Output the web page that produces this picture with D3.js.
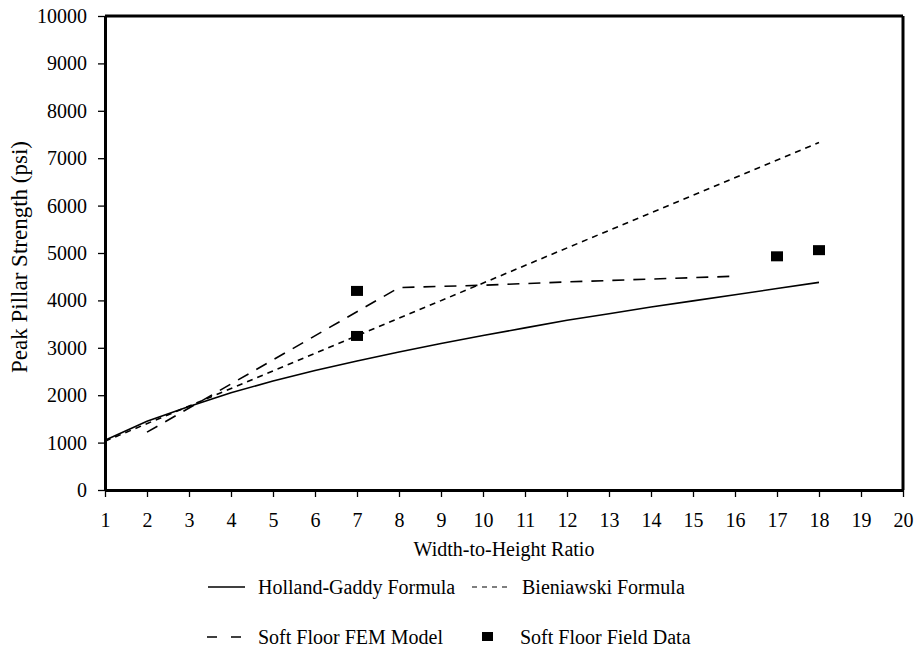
<!DOCTYPE html>
<html>
<head>
<meta charset="utf-8">
<script src="https://cdn.jsdelivr.net/npm/d3@7"></script>
<style>
  html, body { margin: 0; padding: 0; background: #fff; }
  svg { display: block; }
</style>
</head>
<body>
<svg id="chart" width="916" height="652"></svg>
<script>
// ---- Data ----
const ratioHG = [1, 2, 3, 4, 5, 6, 7, 8, 9, 10, 11, 12, 13, 14, 15, 16, 17, 18];
const hollandGaddy = [1050, 1450, 1760, 2050, 2300, 2520, 2720, 2910, 3090, 3260, 3420, 3580, 3720, 3860, 3990, 4120, 4250, 4380];

const ratioBien = [1, 18];
const bieniawski = [1030, 7330];

const ratioFEM = [2, 8, 10, 12, 14, 16];
const femModel = [1220, 4270, 4320, 4390, 4450, 4510];

const ratioField = [7, 7, 17, 18];
const fieldData = [4200, 3250, 4930, 5060];

const xTicks = d3.range(1, 21);
const yTicks = d3.range(0, 10001, 1000);

const seriesNames = ["Holland-Gaddy Formula", "Bieniawski Formula", "Soft Floor FEM Model", "Soft Floor Field Data"];

// ---- Layout ----
const FONT = "'Liberation Serif', 'Times New Roman', Times, serif";
const svg = d3.select("#chart");
const plotL = 105, plotR = 903, plotT = 16, plotB = 490;

const x = d3.scaleLinear().domain([1, 20]).range([plotL, plotR]);
const y = d3.scaleLinear().domain([0, 10000]).range([plotB, plotT]);

function txt(sel, size) {
  return sel.style("font-family", FONT).style("font-size", size + "px").style("fill", "#000");
}

// frame (top and right)
svg.append("line").attr("x1", plotL).attr("x2", plotR).attr("y1", plotT).attr("y2", plotT)
  .attr("stroke", "#000").attr("stroke-width", 3);
svg.append("line").attr("x1", plotR).attr("x2", plotR).attr("y1", plotT).attr("y2", plotB)
  .attr("stroke", "#000").attr("stroke-width", 3);

// axes
const xAxis = svg.append("g").attr("transform", `translate(0,${plotB})`)
  .call(d3.axisBottom(x).tickValues(xTicks).tickFormat(d3.format("d")).tickSize(7).tickPadding(10).tickSizeOuter(0));
const yAxis = svg.append("g").attr("transform", `translate(${plotL},0)`)
  .call(d3.axisLeft(y).tickValues(yTicks).tickFormat(d3.format("d")).tickSize(7).tickPadding(11).tickSizeOuter(0));

[xAxis, yAxis].forEach(g => {
  g.attr("font-family", null).attr("font-size", null);
  g.select(".domain").attr("stroke", "#000").attr("stroke-width", 3);
  g.selectAll(".tick line").attr("stroke", "#000").attr("stroke-width", 1.3);
  txt(g.selectAll(".tick text"), 20);
});
xAxis.selectAll(".tick text").attr("dy", null).attr("y", 0).attr("transform", "translate(0,37)");

// axis titles
txt(svg.append("text").attr("x", (plotL + plotR) / 2).attr("y", 556).attr("text-anchor", "middle"), 20)
  .text("Width-to-Height Ratio");
txt(svg.append("text").attr("transform", "translate(27,257) rotate(-90)").attr("text-anchor", "middle"), 23)
  .text("Peak Pillar Strength (psi)");

// lines
const line = d3.line().x(d => x(d[0])).y(d => y(d[1]));

svg.append("path").datum(d3.zip(ratioHG, hollandGaddy)).attr("d", line)
  .attr("fill", "none").attr("stroke", "#000").attr("stroke-width", 1.6);
svg.append("path").datum(d3.zip(ratioBien, bieniawski)).attr("d", line)
  .attr("fill", "none").attr("stroke", "#000").attr("stroke-width", 1.6).attr("stroke-dasharray", "6,5");
svg.append("path").datum(d3.zip(ratioFEM, femModel)).attr("d", line)
  .attr("fill", "none").attr("stroke", "#000").attr("stroke-width", 1.6).attr("stroke-dasharray", "12,9");

// field data squares
const sqW = 12, sqH = 10;
svg.append("g").selectAll("rect").data(d3.zip(ratioField, fieldData)).join("rect")
  .attr("x", d => x(d[0]) - sqW / 2).attr("y", d => y(d[1]) - sqH / 2)
  .attr("width", sqW).attr("height", sqH).attr("fill", "#000");

// legend
const lg = svg.append("g");
// row 1
lg.append("line").attr("x1", 208).attr("x2", 245).attr("y1", 587).attr("y2", 587)
  .attr("stroke", "#000").attr("stroke-width", 1.4);
txt(lg.append("text").attr("x", 258).attr("y", 594), 20).text(seriesNames[0]);
lg.append("line").attr("x1", 472).attr("x2", 512).attr("y1", 587).attr("y2", 587)
  .attr("stroke", "#000").attr("stroke-width", 1.2).attr("stroke-dasharray", "5,5");
txt(lg.append("text").attr("x", 522).attr("y", 594), 20).text(seriesNames[1]);
// row 2
lg.append("line").attr("x1", 207).attr("x2", 241).attr("y1", 637).attr("y2", 637)
  .attr("stroke", "#000").attr("stroke-width", 1.4).attr("stroke-dasharray", "10,14");
txt(lg.append("text").attr("x", 258).attr("y", 644), 20).text(seriesNames[2]);
lg.append("rect").attr("x", 482).attr("y", 632).attr("width", 11).attr("height", 9).attr("fill", "#000");
txt(lg.append("text").attr("x", 520).attr("y", 644), 20).text(seriesNames[3]);
</script>
</body>
</html>
